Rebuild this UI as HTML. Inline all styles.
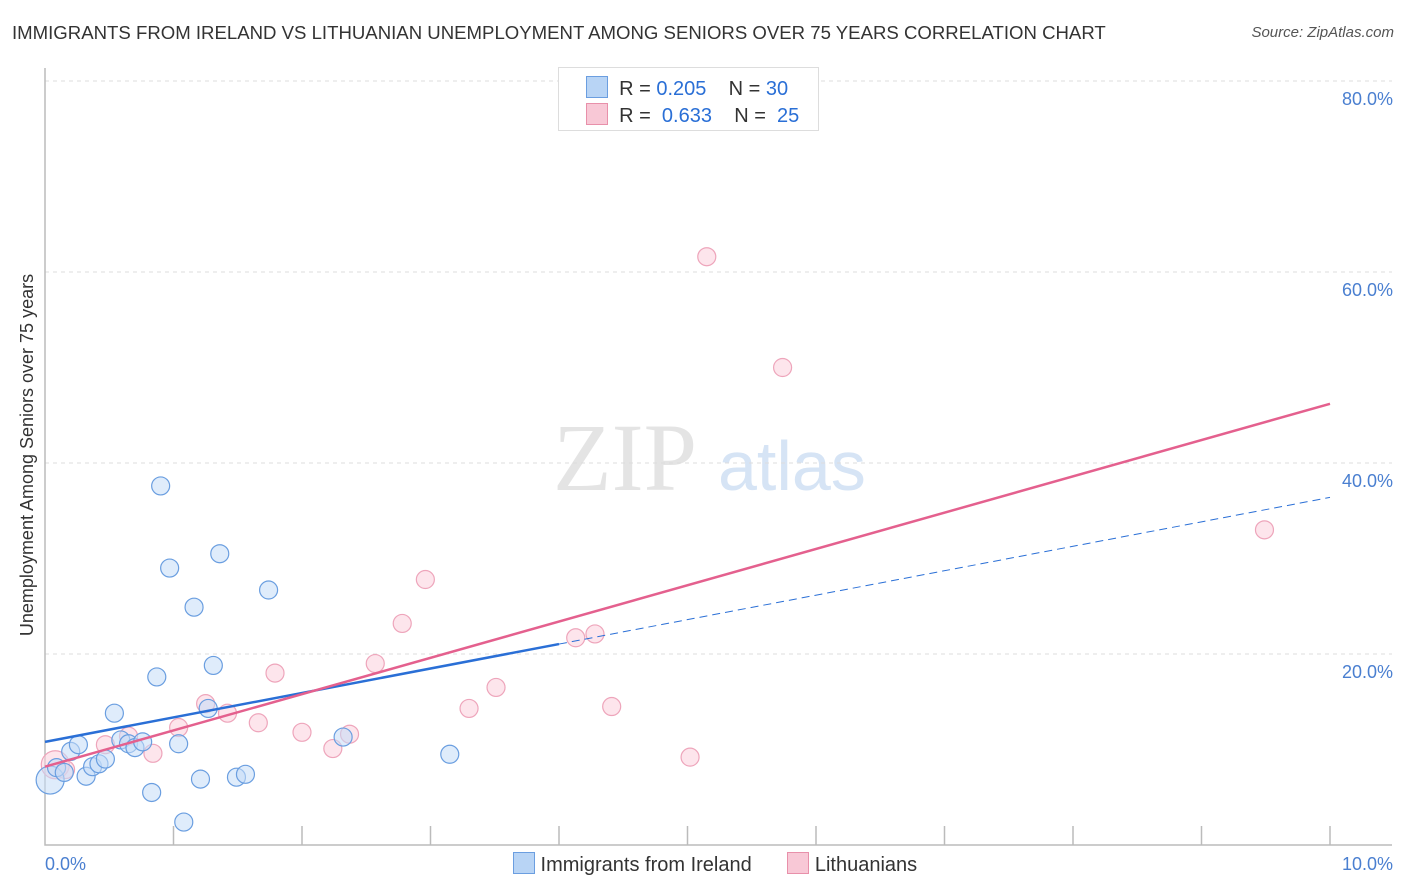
<!DOCTYPE html>
<html><head><meta charset="utf-8"><style>
body{margin:0;background:#fff;font-family:"Liberation Sans",sans-serif}
#wrap{position:relative;width:1406px;height:892px}
.t{position:absolute;white-space:nowrap}
</style></head><body>
<div id="wrap">
<div class="t" style="left:12px;top:22px;font-size:18.6px;color:#333">IMMIGRANTS FROM IRELAND VS LITHUANIAN UNEMPLOYMENT AMONG SENIORS OVER 75 YEARS CORRELATION CHART</div>
<div class="t" style="right:12px;top:24px;font-size:15px;color:#555;font-style:italic">Source: ZipAtlas.com</div>
<svg id="svg" width="1406" height="892" style="position:absolute;left:0;top:0"></svg>
</div>
<script>
const xTicks=[0,1,2,3,4,5,6,7,8,9,10];
const yTicks=[20,40,60,80];
const blueX=[0.04,0.09,0.15,0.2,0.26,0.32,0.37,0.42,0.47,0.54,0.59,0.65,0.7,0.76,0.83,0.87,0.9,0.97,1.04,1.08,1.16,1.21,1.27,1.31,1.36,1.49,1.56,1.74,2.32,3.15];
const blueY=[6.8,8.1,7.6,9.8,10.5,7.2,8.2,8.5,9.0,13.8,11.0,10.6,10.2,10.8,5.5,17.6,37.6,29.0,10.6,2.4,24.9,6.9,14.3,18.8,30.5,7.1,7.4,26.7,11.3,9.5];
const pinkX=[0.08,0.16,0.47,0.65,0.84,1.04,1.25,1.42,1.66,1.79,2.0,2.24,2.37,2.57,2.78,2.96,3.3,3.51,4.13,4.28,4.41,5.02,5.15,5.74,9.49];
const pinkY=[8.4,7.9,10.5,11.4,9.6,12.3,14.8,13.8,12.8,18.0,11.8,10.1,11.6,19.0,23.2,27.8,14.3,16.5,21.7,22.1,14.5,9.2,61.6,50.0,33.0];
const blueLine=[10.8,36.4], pinkLine=[8.2,46.2];
const sx=v=>45+v*128.5, sy=v=>845-v*9.55;
const svg=document.getElementById('svg');const NS='http://www.w3.org/2000/svg';
function mk(t,a,p){const e=document.createElementNS(NS,t);for(const k in a)e.setAttribute(k,a[k]);(p||svg).appendChild(e);return e;}
let w=mk('text',{x:553,y:490,'font-size':96,fill:'#e4e4e4','font-family':'Liberation Serif'});w.textContent='ZIP';

let w2=mk('text',{x:718,y:490,'font-size':70,fill:'#d6e4f5','font-family':'Liberation Sans'});w2.textContent='atlas';

yTicks.forEach(v=>{const l=mk('line',{x1:45,x2:1392,y1:sy(v),y2:sy(v),stroke:'#ddd','stroke-dasharray':'4,4'});

const t=mk('text',{x:1393,y:sy(v)+24,'text-anchor':'end','font-size':18,fill:'#4a7fd0'});t.textContent=v.toFixed(1)+'%';
});
const ax=mk('path',{d:'M45,68V845H1392',stroke:'#bbb',fill:'none','stroke-width':1.5});

xTicks.slice(1).forEach(v=>{const l=mk('line',{x1:sx(v),x2:sx(v),y1:826,y2:845,stroke:'#bbb','stroke-width':1.5});
});
[[0,'0.0%',45,'start'],[10,'10.0%',1393,'end']].forEach(a=>{const t=mk('text',{x:a[2],y:870,'text-anchor':a[3],'font-size':18,fill:'#4a7fd0'});t.textContent=a[1];
});
const yt=mk('text',{transform:'translate(33,455) rotate(-90)','text-anchor':'middle','font-size':18,fill:'#333'});yt.textContent='Unemployment Among Seniors over 75 years';

function dots(X,Y,f,s,n){X.forEach((x,i)=>{const c=mk('circle',{cx:sx(x),cy:sy(Y[i]),r:i==0?14:9,fill:f,'fill-opacity':0.55,stroke:s,'stroke-width':1.2});
});}
dots(pinkX,pinkY,'#fbd0dc','#eea5bb','lithuanians-point');
dots(blueX,blueY,'#c4dcf7','#6a9ee0','ireland-point');
let b1=mk('line',{x1:sx(0),y1:sy(blueLine[0]),x2:sx(4),y2:sy(blueLine[0]+(blueLine[1]-blueLine[0])*0.4),stroke:'#2a6fd6','stroke-width':2.5});

let b2=mk('line',{x1:sx(4),y1:sy(blueLine[0]+(blueLine[1]-blueLine[0])*0.4),x2:sx(10),y2:sy(blueLine[1]),stroke:'#2a6fd6','stroke-width':1,'stroke-dasharray':'8,5'});

let p1=mk('line',{x1:sx(0),y1:sy(pinkLine[0]),x2:sx(10),y2:sy(pinkLine[1]),stroke:'#e4608e','stroke-width':2.5});

</script>
<div class="t" style="left:558px;top:67px;width:259px;height:62px;border:1px solid #ddd;background:#fff;font-size:20px;color:#333">
<div style="position:absolute;left:27px;top:8px"><span style="display:inline-block;width:20px;height:20px;background:#b8d4f5;border:1px solid #6b9ee0;vertical-align:-3px"></span>&nbsp; R = <span style="color:#2a6fd6">0.205</span>&nbsp;&nbsp;&nbsp; N = <span style="color:#2a6fd6">30</span></div>
<div style="position:absolute;left:27px;top:35px"><span style="display:inline-block;width:20px;height:20px;background:#f8c8d6;border:1px solid #e890aa;vertical-align:-3px"></span>&nbsp; R = &nbsp;<span style="color:#2a6fd6">0.633</span>&nbsp;&nbsp;&nbsp; N = &nbsp;<span style="color:#2a6fd6">25</span></div>
</div>
<div class="t" style="left:513px;top:852px;font-size:20px;color:#333">
<span style="display:inline-block;width:20px;height:20px;background:#b8d4f5;border:1px solid #6b9ee0;vertical-align:-3px"></span> Immigrants from Ireland
<span style="display:inline-block;width:20px;height:20px;background:#f8c8d6;border:1px solid #e890aa;vertical-align:-3px;margin-left:30px"></span> Lithuanians</div>
</body></html>
